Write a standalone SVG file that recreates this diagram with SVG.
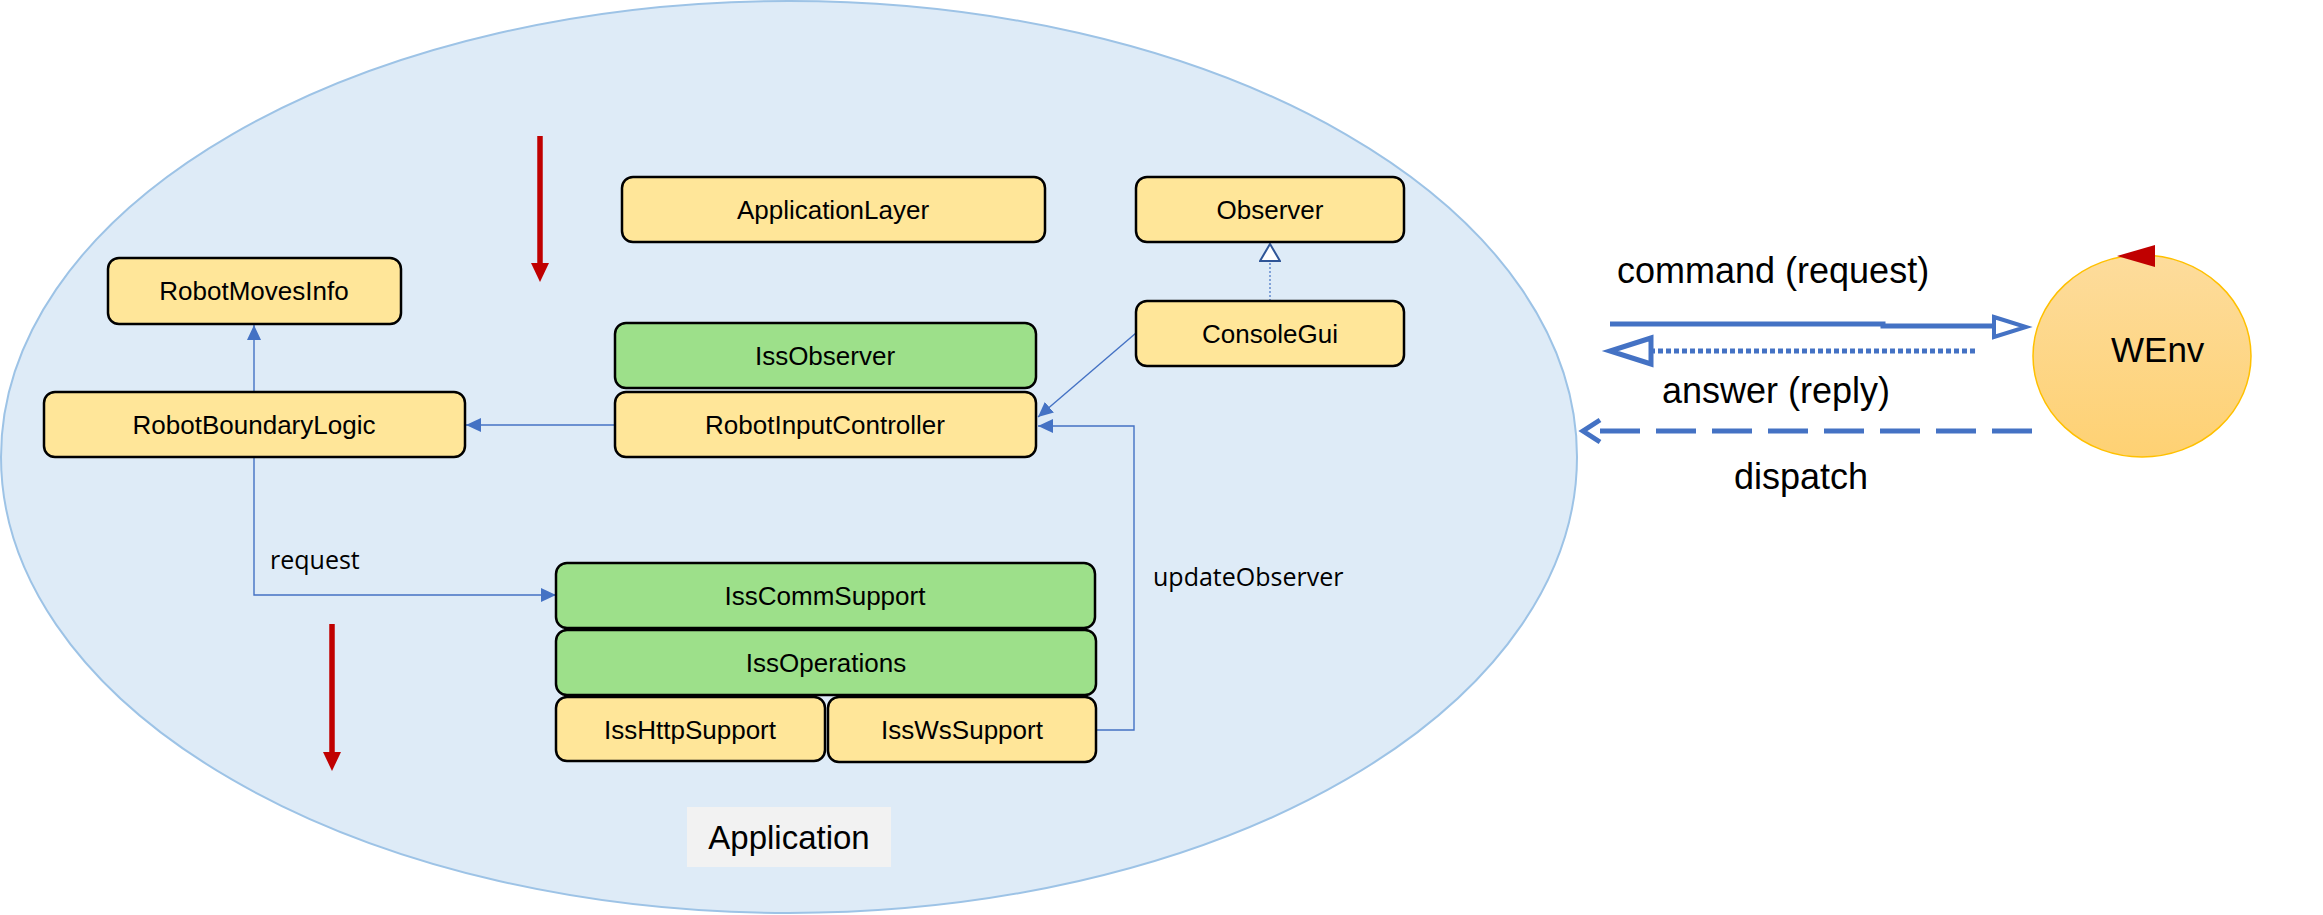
<svg xmlns="http://www.w3.org/2000/svg" width="2323" height="915" viewBox="0 0 2323 915">
<style>
.box{stroke:#000;stroke-width:2.5}
.y{fill:#ffe699}
.g{fill:#9de08a}
.lbl{font-family:"Liberation Sans",Arial,sans-serif;font-size:26px;fill:#000;text-anchor:middle}
.elbl{font-family:"Open Sans","Liberation Sans",sans-serif;font-size:25px;fill:#000}
.big{font-family:"Liberation Sans",Arial,sans-serif;font-size:36px;fill:#000}
.conn{fill:none;stroke:#4472c4;stroke-width:1.4}
.red{stroke:#c00000;stroke-width:5.5;fill:none}
.redh{fill:#c00000}
.thick{fill:none;stroke:#4472c4;stroke-width:5}
</style>
<defs>
<marker id="ah" markerUnits="userSpaceOnUse" markerWidth="16" markerHeight="14" refX="15" refY="7" orient="auto">
<path d="M0,0 L15,7 L0,14 z" fill="#4472c4"/>
</marker>
<marker id="hollow" markerUnits="userSpaceOnUse" markerWidth="24" markerHeight="22" refX="19" refY="11" orient="auto">
<path d="M2,1 L19,11 L2,21 z" fill="#fff" stroke="#2f5597" stroke-width="2"/>
</marker>
<linearGradient id="wg" x1="0" y1="0" x2="0" y2="1">
<stop offset="0" stop-color="#fddc9c"/>
<stop offset="1" stop-color="#fed173"/>
</linearGradient>
</defs>
<rect width="2323" height="915" fill="#fff"/>
<g id="application">
<ellipse cx="789" cy="457" rx="788" ry="456" fill="#deebf7" stroke="#9dc3e6" stroke-width="2"/>
<rect x="687" y="807" width="204" height="60" fill="#f2f2f2"/>
<text x="789" y="849" class="lbl" style="font-size:33px">Application</text>
</g>
<g id="red-arrows">
<line x1="540" y1="136" x2="540" y2="265" class="red"/>
<polygon points="531,263 549,263 540,282" class="redh"/>
<line x1="332" y1="624" x2="332" y2="754" class="red"/>
<polygon points="323,752 341,752 332,771" class="redh"/>
</g>
<g id="connectors">
<line x1="254" y1="392" x2="254" y2="325" class="conn" marker-end="url(#ah)"/>
<line x1="615" y1="425" x2="466" y2="425" class="conn" marker-end="url(#ah)"/>
<line x1="1136" y1="333" x2="1038" y2="417" class="conn" marker-end="url(#ah)"/>
<line x1="1270" y1="301" x2="1270" y2="244" stroke="#4472c4" stroke-width="1.2" stroke-dasharray="2 2" marker-end="url(#hollow)"/>
<polyline points="254,457 254,595 556,595" class="conn" marker-end="url(#ah)"/>
<polyline points="1096,730 1134,730 1134,426 1038,426" class="conn" marker-end="url(#ah)"/>
<text x="270" y="569" class="elbl">request</text>
<text x="1153" y="586" class="elbl">updateObserver</text>
</g>
<g id="ApplicationLayer"><rect x="622" y="177" width="423" height="65" rx="11" class="box y"/><text x="833" y="219" class="lbl">ApplicationLayer</text></g>
<g id="Observer"><rect x="1136" y="177" width="268" height="65" rx="11" class="box y"/><text x="1270" y="219" class="lbl">Observer</text></g>
<g id="ConsoleGui"><rect x="1136" y="301" width="268" height="65" rx="11" class="box y"/><text x="1270" y="343" class="lbl">ConsoleGui</text></g>
<g id="RobotMovesInfo"><rect x="108" y="258" width="293" height="66" rx="11" class="box y"/><text x="254" y="300" class="lbl">RobotMovesInfo</text></g>
<g id="RobotBoundaryLogic"><rect x="44" y="392" width="421" height="65" rx="11" class="box y"/><text x="254" y="434" class="lbl">RobotBoundaryLogic</text></g>
<g id="IssObserver"><rect x="615" y="323" width="421" height="65" rx="11" class="box g"/><text x="825" y="365" class="lbl">IssObserver</text></g>
<g id="RobotInputController"><rect x="615" y="392" width="421" height="65" rx="11" class="box y"/><text x="825" y="434" class="lbl">RobotInputController</text></g>
<g id="IssCommSupport"><rect x="556" y="563" width="539" height="65" rx="11" class="box g"/><text x="825" y="605" class="lbl">IssCommSupport</text></g>
<g id="IssOperations"><rect x="556" y="630" width="540" height="65" rx="11" class="box g"/><text x="826" y="672" class="lbl">IssOperations</text></g>
<g id="IssHttpSupport"><rect x="556" y="697" width="269" height="64" rx="11" class="box y"/><text x="690" y="739" class="lbl">IssHttpSupport</text></g>
<g id="IssWsSupport"><rect x="828" y="697" width="268" height="65" rx="11" class="box y"/><text x="962" y="739" class="lbl">IssWsSupport</text></g>
<g id="WEnv">
<ellipse cx="2142" cy="356" rx="109" ry="101" fill="url(#wg)" stroke="#ffc000" stroke-width="1.5"/>
<text x="2111" y="362" class="big" style="font-size:35px">WEnv</text>
<polygon points="2155,245 2117,256 2155,267" fill="#c00000"/>
</g>
<g id="interaction">
<polyline points="1610,324 1883,324 1883,326 1994,326" class="thick"/>
<polygon points="1994,317 2026,327 1994,337" fill="#fff" stroke="#4472c4" stroke-width="4"/>
<line x1="1975" y1="351" x2="1651" y2="351" class="thick" stroke-dasharray="5 3"/>
<polygon points="1651,338 1610,351 1651,364" fill="#fff" stroke="#4472c4" stroke-width="5"/>
<line x1="2032" y1="431" x2="1588" y2="431" class="thick" stroke-width="6" stroke-dasharray="40 16"/>
<polyline points="1600,420 1583,431 1600,442" class="thick"/>
<text x="1617" y="283" class="big">command (request)</text>
<text x="1662" y="403" class="big">answer (reply)</text>
<text x="1734" y="489" class="big">dispatch</text>
</g>
</svg>
